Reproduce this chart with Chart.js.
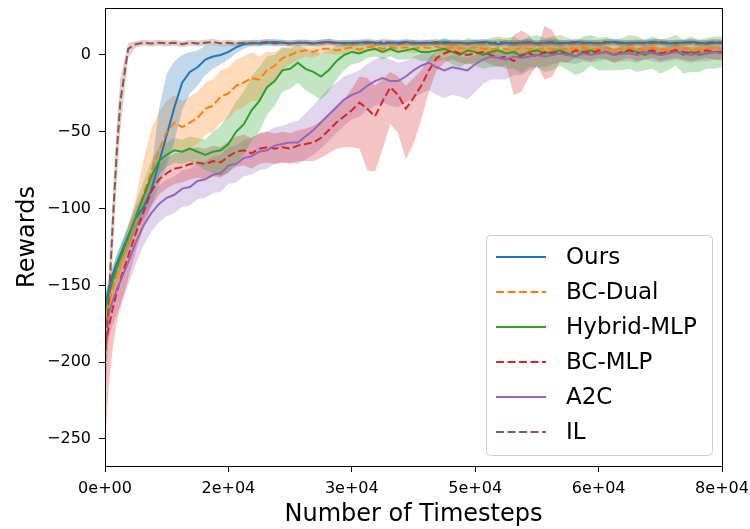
<!DOCTYPE html>
<html>
<head>
<meta charset="utf-8">
<script src="https://cdn.jsdelivr.net/npm/chart.js"></script>
<style>
  html, body { margin: 0; padding: 0; background: #fff; }
  #wrap { width: 750px; height: 529px; }
</style>
</head>
<body>
<div id="wrap"><canvas id="c" width="750" height="529"></canvas></div>
<script>
// timesteps (x) shared by every series
const steps = [0, 500, 1000, 1500, 2000, 3000, 4000, 5000, 6000, 7000,
  8000, 9000, 10000, 11000, 12000, 13000, 14000, 15000, 16000, 17000,
  18000, 19000, 20000, 21000, 22000, 23000, 24000, 25000, 26000, 27000,
  28000, 29000, 30000, 31000, 32000, 33000, 34000, 35000, 36000, 37000,
  38000, 39000, 40000, 41000, 42000, 43000, 44000, 45000, 46000, 47000,
  48000, 49000, 50000, 51000, 52000, 53000, 54000, 55000, 56000, 57000,
  58000, 59000, 60000, 61000, 62000, 63000, 64000, 65000, 66000, 67000,
  68000, 69000, 70000, 71000, 72000, 73000, 74000, 75000, 76000, 77000,
  78000, 79000, 80000];

const xTicks = [0, 16000, 32000, 48000, 64000, 80000];
const yTicks = [-250, -200, -150, -100, -50, 0];

// Ours
const oursMean = [-162, -152, -143, -136, -130, -118, -106, -99, -88, -70,
  -52, -34, -18, -11, -8, -3, -1, 0, 2, 5,
  7, 8, 7.5, 8, 8.5, 8, 7.5, 8, 8, 7.5,
  8, 8.5, 8, 7.5, 8, 8, 8.5, 8, 7.5, 8,
  8, 8.5, 7.5, 8, 8, 7.5, 8.5, 8, 8, 7.5,
  8, 8.5, 8, 7, 8, 7.5, 8, 8.5, 7.5, 8,
  8, 7.5, 8, 8.5, 8, 8, 7.5, 8, 8.5, 8,
  7.5, 8, 8, 8.5, 8, 7.5, 8, 8, 8.5, 8,
  7.5, 8, 8];
const oursHi = [6, 6, 6, 6, 6, 6, 7, 8, 12, 35,
  40, 30, 18, 13, 11, 9, 8, 6, 5, 3,
  2, 2, 2, 2, 2, 2, 2, 2, 2, 2,
  2, 2, 2, 2, 2, 2, 2, 2, 2, 2,
  2, 2, 2, 2, 2, 2, 2, 2, 2, 2,
  2, 2, 2, 2, 2, 2, 2, 2, 2, 2,
  2, 2, 2, 2, 2, 2, 2, 2, 2, 2,
  2, 2, 2, 2, 2, 2, 2, 2, 2, 2,
  2, 2, 2];
const oursLo = [6, 6, 6, 6, 6, 6, 7, 8, 10, 15,
  20, 22, 18, 14, 12, 10, 8, 6, 5, 4,
  3, 2, 2, 2, 2, 2, 2, 2, 2, 2,
  2, 2, 2, 2, 2, 2, 2, 2, 2, 2,
  2, 2, 2, 2, 2, 2, 2, 2, 2, 2,
  2, 2, 2, 2, 2, 2, 2, 2, 2, 2,
  2, 2, 2, 2, 2, 2, 2, 2, 2, 2,
  2, 2, 2, 2, 2, 2, 2, 2, 2, 2,
  2, 2, 2];

// BC-Dual
const dualMean = [-175, -163, -152, -143, -135, -120, -105, -90, -76, -62,
  -50, -44, -47, -44, -41, -35, -33, -27, -25, -20,
  -18, -15, -16, -10, -7, -2, 0, 2, 3, 2,
  4, 4, 3, 4, 5, 3.5, 5, 5.5, 4, 5,
  4.5, 5, 4, 5, 4.5, 5.5, 4, 5, 4.5, 4,
  5, 4, 3.5, 4.5, 4, 3, 5, 4, 3.5, 4.5,
  4, 3, 4.5, 4, 5, 3.5, 4, 4.5, 3, 4,
  4.5, 4, 3.5, 4.5, 4, 3, 4, 4.5, 4, 3.5,
  4, 4.5, 4];
const dualHi = [8, 8, 8, 8, 8, 9, 12, 22, 28, 25,
  20, 18, 17, 17, 17, 17, 17, 17, 17, 17,
  17, 17, 15, 12, 9, 7, 5, 4, 3, 3,
  3, 3, 3, 3, 3, 3, 3, 3, 3, 3,
  3, 3, 3, 3, 3, 3, 3, 3, 3, 3,
  3, 3, 3, 3, 3, 3, 3, 3, 3, 3,
  3, 3, 3, 3, 3, 3, 3, 3, 3, 3,
  3, 3, 3, 3, 3, 3, 3, 3, 3, 3,
  3, 3, 3];
const dualLo = [8, 8, 8, 8, 8, 8, 10, 14, 16, 17,
  17, 17, 17, 17, 17, 17, 17, 17, 16, 16,
  16, 15, 14, 12, 10, 8, 6, 5, 4, 4,
  3, 3, 3, 3, 3, 3, 3, 3, 3, 3,
  3, 3, 3, 3, 3, 3, 3, 3, 3, 3,
  3, 3, 3, 3, 3, 3, 3, 3, 3, 3,
  3, 3, 3, 3, 3, 3, 3, 3, 3, 3,
  3, 3, 3, 3, 3, 3, 3, 3, 3, 3,
  3, 3, 3];

// Hybrid-MLP
const hybMean = [-166, -156, -147, -139, -132, -119, -105, -92, -79, -69,
  -65, -62, -63, -61, -63, -65, -63, -62, -58, -50,
  -45, -36, -30, -21, -17, -10, -9, -5, -9, -11,
  -14, -10, -4, 0, 2, 1, 3, 4, 2, 4,
  2, 3, 4, 2, 2, 3, 4, 2, 0, 3,
  2, 0, 2, 3, 1, 2, -1, 2, 3, 1,
  2, 3, 1, -1, 2, 3, 1, 2, 0, 1,
  3, 2, 0, 2, 0, 1, 3, 0, 2, 0,
  1, 2, 2];
const hybHi = [8, 8, 8, 8, 8, 8, 9, 10, 10, 9,
  8, 8, 8, 8, 9, 10, 13, 16, 19, 20,
  21, 22, 22, 20, 17, 15, 13, 12, 13, 14,
  15, 13, 10, 7, 6, 6, 5, 5, 5, 5,
  5, 5, 6, 6, 6, 6, 7, 7, 8, 8,
  8, 9, 9, 9, 10, 10, 10, 10, 10, 10,
  10, 10, 10, 10, 10, 10, 10, 10, 10, 10,
  10, 10, 10, 10, 10, 10, 10, 10, 10, 10,
  10, 10, 10];
const hybLo = [8, 8, 8, 8, 8, 8, 9, 10, 10, 9,
  8, 8, 8, 8, 9, 10, 14, 17, 19, 20,
  20, 20, 20, 18, 16, 14, 13, 13, 14, 15,
  15, 14, 12, 10, 8, 6, 5, 5, 5, 5,
  5, 6, 6, 6, 6, 7, 7, 8, 8, 8,
  9, 9, 10, 10, 10, 11, 11, 10, 11, 12,
  12, 10, 11, 12, 13, 10, 11, 12, 10, 11,
  12, 13, 10, 11, 12, 11, 10, 12, 13, 11,
  10, 11, 10];

// BC-MLP
const mlpMean = [-190, -177, -165, -155, -146, -131, -116, -102, -89, -81,
  -77, -74, -73, -71, -70, -71, -69, -70, -66, -63,
  -62, -64, -61, -60, -61, -60, -61, -59, -58, -57,
  -54, -49, -44, -40, -36, -31, -35, -40, -30, -21,
  -26, -35, -28, -20, -10, -2, 1, 3, 1, 0,
  1, 2, 0, -2, -1, -4, 0, 1, -1, 2,
  1, 2, 0, 3, 2, 1, 3, 2, 0, 2,
  3, 1, 2, 3, 1, 2, 3, 2, 1, 2,
  3, 2, 2];
const mlpHi = [10, 10, 10, 10, 10, 10, 10, 10, 10, 10,
  10, 10, 10, 10, 10, 10, 10, 10, 10, 10,
  10, 10, 10, 10, 10, 10, 10, 10, 10, 11,
  11, 11, 11, 11, 14, 17, 20, 20, 14, 10,
  12, 15, 13, 10, 8, 6, 5, 5, 5, 5,
  5, 5, 5, 5, 5, 17, 16, 12, 5, 17,
  15, 5, 5, 5, 5, 5, 4, 4, 4, 4,
  4, 4, 4, 4, 4, 4, 4, 4, 4, 4,
  4, 4, 4];
const mlpLo = [65, 38, 26, 20, 18, 15, 12, 10, 10, 10,
  10, 10, 10, 10, 10, 10, 10, 10, 10, 10,
  10, 10, 10, 10, 10, 10, 10, 10, 11, 12,
  13, 15, 17, 20, 24, 30, 40, 36, 31, 24,
  25, 33, 30, 22, 14, 8, 6, 6, 6, 6,
  6, 6, 6, 6, 6, 22, 24, 15, 6, 18,
  15, 6, 5, 5, 5, 5, 5, 5, 5, 5,
  5, 5, 5, 5, 5, 5, 5, 5, 5, 5,
  5, 5, 5];

// A2C
const a2cMean = [-178, -168, -160, -153, -147, -135, -122, -111, -103, -97,
  -93, -91, -87, -86, -82, -81, -78, -77, -72, -71,
  -67, -66, -63, -62, -59, -58, -57, -57, -53, -49,
  -44, -39, -34, -29, -26, -24, -20, -17, -15, -17,
  -17, -14, -10, -7, -5, -8, -10, -8, -9, -10,
  -6, -3, -1, -2, -3, -1, -2, -1, 0, -1,
  0, 1, 0, -1, 1, 0, 1, 2, 0, 1,
  1, 0, 2, 1, 0, 1, 2, 1, 0, 1,
  1, 2, 1];
const a2cHi = [14, 14, 14, 14, 14, 13, 12, 12, 12, 12,
  12, 12, 12, 12, 12, 12, 12, 12, 12, 12,
  12, 12, 12, 12, 12, 12, 13, 14, 15, 16,
  17, 17, 16, 15, 14, 14, 14, 14, 14, 14,
  12, 10, 9, 8, 7, 7, 8, 8, 8, 8,
  6, 5, 4, 4, 4, 4, 4, 4, 4, 4,
  4, 4, 4, 4, 4, 4, 4, 4, 4, 4,
  4, 4, 4, 4, 4, 4, 4, 4, 4, 4,
  4, 4, 4];
const a2cLo = [16, 16, 16, 16, 16, 15, 14, 13, 12, 12,
  12, 12, 12, 12, 12, 12, 12, 12, 12, 12,
  12, 12, 12, 12, 12, 12, 13, 14, 15, 16,
  17, 17, 17, 17, 16, 16, 16, 16, 16, 16,
  17, 17, 18, 18, 18, 18, 18, 18, 18, 19,
  18, 16, 15, 14, 13, 12, 11, 9, 8, 7,
  6, 6, 5, 5, 5, 5, 5, 5, 5, 5,
  5, 5, 5, 5, 5, 5, 5, 5, 5, 5,
  5, 5, 5];

// IL
const ilMean = [-200, -160, -110, -65, -30, 4, 7, 8, 7.5, 8,
  7.5, 8, 7, 8, 7.5, 8, 8.5, 7.5, 8, 7.5,
  8, 7.5, 8, 8.5, 7.5, 8, 7.5, 8, 8, 7.5,
  8, 8.5, 7.5, 8, 7.5, 8, 8, 7.5, 8.5, 8,
  7.5, 8, 8, 7.5, 8, 8.5, 7.5, 8, 8, 7.5,
  8, 8, 7.5, 8.5, 8, 7.5, 8, 8, 7.5, 8,
  8.5, 8, 7.5, 8, 8, 7.5, 8, 8.5, 8, 7.5,
  8, 8, 7.5, 8, 8.5, 8, 7.5, 8, 8, 7.5,
  8, 8.5, 8];
const ilHi = [18, 18, 18, 18, 15, 4, 2, 2, 2, 2,
  2, 2, 2, 2, 2, 2, 2, 2, 2, 2,
  2, 2, 2, 2, 2, 2, 2, 2, 2, 2,
  2, 2, 2, 2, 2, 2, 2, 2, 2, 2,
  2, 2, 2, 2, 2, 2, 2, 2, 2, 2,
  2, 2, 2, 2, 2, 2, 2, 2, 2, 2,
  2, 2, 2, 2, 2, 2, 2, 2, 2, 2,
  2, 2, 2, 2, 2, 2, 2, 2, 2, 2,
  2, 2, 2];
const ilLo = [25, 22, 20, 20, 18, 6, 2, 2, 2, 2,
  2, 2, 2, 2, 2, 2, 2, 2, 2, 2,
  2, 2, 2, 2, 2, 2, 2, 2, 2, 2,
  2, 2, 2, 2, 2, 2, 2, 2, 2, 2,
  2, 2, 2, 2, 2, 2, 2, 2, 2, 2,
  2, 2, 2, 2, 2, 2, 2, 2, 2, 2,
  2, 2, 2, 2, 2, 2, 2, 2, 2, 2,
  2, 2, 2, 2, 2, 2, 2, 2, 2, 2,
  2, 2, 2];

const series = [
  { label: 'Ours',       color: [31, 119, 180], dash: [],     mean: oursMean, hi: oursHi, lo: oursLo },
  { label: 'BC-Dual',    color: [255, 127, 14], dash: [8, 3.5], mean: dualMean, hi: dualHi, lo: dualLo },
  { label: 'Hybrid-MLP', color: [44, 160, 44],  dash: [],     mean: hybMean,  hi: hybHi,  lo: hybLo },
  { label: 'BC-MLP',     color: [214, 39, 40],  dash: [8, 3.5], mean: mlpMean,  hi: mlpHi,  lo: mlpLo },
  { label: 'A2C',        color: [148, 103, 189], dash: [],    mean: a2cMean,  hi: a2cHi,  lo: a2cLo },
  { label: 'IL',         color: [140, 86, 75],  dash: [8, 3.5], mean: ilMean,   hi: ilHi,   lo: ilLo },
];

const rgba = (c, a) => `rgba(${c[0]},${c[1]},${c[2]},${a})`;
const pts = ys => ys.map((y, i) => ({ x: steps[i], y }));

const datasets = [];
// shaded bands first (drawn below all lines)
series.forEach(s => {
  datasets.push({
    data: pts(s.mean.map((m, i) => m + s.hi[i])),
    borderWidth: 0, pointRadius: 0, fill: false, order: 10,
  });
  datasets.push({
    data: pts(s.mean.map((m, i) => m - s.lo[i])),
    borderWidth: 0, pointRadius: 0, order: 10,
    fill: '-1', backgroundColor: rgba(s.color, 0.28),
  });
});
// mean lines, later series on top
series.forEach((s, k) => {
  datasets.push({
    label: s.label,
    data: pts(s.mean),
    borderColor: rgba(s.color, 1),
    borderWidth: 2,
    borderDash: s.dash,
    pointRadius: 0,
    fill: false,
    tension: 0,
    order: series.length - k,
  });
});

const frame = {
  id: 'frame',
  afterDraw(chart) {
    const { ctx, chartArea: a } = chart;
    ctx.save();
    ctx.strokeStyle = '#000';
    ctx.lineWidth = 1;
    ctx.strokeRect(a.left + 0.5, a.top + 0.5, a.right - a.left, a.bottom - a.top);
    ctx.restore();
  }
};

const legendBox = {
  id: 'legendBox',
  afterDraw(chart) {
    const ctx = chart.ctx;
    const x0 = 486, y0 = 235, w = 226, h = 220, r = 4;
    ctx.save();
    ctx.beginPath();
    ctx.roundRect(x0 + 0.5, y0 + 0.5, w, h, r);
    ctx.fillStyle = 'rgba(255,255,255,0.85)';
    ctx.fill();
    ctx.strokeStyle = '#d0d0d0';
    ctx.lineWidth = 1;
    ctx.stroke();
    ctx.font = '23px "DejaVu Sans", sans-serif';
    ctx.textBaseline = 'middle';
    ctx.fillStyle = '#000';
    series.forEach((s, i) => {
      const y = y0 + 22 + i * 35;
      ctx.beginPath();
      ctx.setLineDash(s.dash);
      ctx.strokeStyle = rgba(s.color, 1);
      ctx.lineWidth = 2;
      ctx.moveTo(496, y);
      ctx.lineTo(546, y);
      ctx.stroke();
      ctx.setLineDash([]);
      ctx.fillText(s.label, 566, y + 1);
    });
    ctx.restore();
  }
};

const tickFont = { family: '"DejaVu Sans", sans-serif', size: 16 };
const titleFont = { family: '"DejaVu Sans", sans-serif', size: 24 };

new Chart(document.getElementById('c'), {
  type: 'line',
  data: { datasets },
  plugins: [frame, legendBox],
  options: {
    responsive: false,
    animation: false,
    layout: { padding: { top: 8, right: 28, left: 0, bottom: 0 } },
    plugins: { legend: { display: false }, tooltip: { enabled: false } },
    scales: {
      x: {
        type: 'linear',
        min: 0, max: 80000,
        afterFit: s => { s.height = 63; s.paddingLeft = 0; s.paddingRight = 0; },
        afterBuildTicks: s => { s.ticks = xTicks.map(v => ({ value: v })); },
        ticks: {
          color: '#000', font: tickFont, padding: 7, maxRotation: 0, autoSkip: false,
          callback: v => v.toExponential(0).replace(/e([+-])(\d)$/, 'e$10$2'),
        },
        grid: { display: true, drawOnChartArea: false, drawTicks: true, tickLength: 6, color: '#000' },
        border: { display: true, color: '#000' },
        title: { display: true, text: 'Number of Timesteps', color: '#000', font: titleFont, padding: { top: 0, bottom: 0 } },
      },
      y: {
        min: -267.6, max: 30.6,
        afterFit: s => { s.width = 105; s.paddingTop = 0; s.paddingBottom = 0; },
        afterBuildTicks: s => { s.ticks = yTicks.map(v => ({ value: v })); },
        ticks: {
          color: '#000', font: tickFont, padding: 8,
          callback: v => String(v).replace('-', '\u2212'),
        },
        grid: { display: true, drawOnChartArea: false, drawTicks: true, tickLength: 6, color: '#000' },
        border: { display: true, color: '#000' },
        title: { display: true, text: 'Rewards', color: '#000', font: titleFont, padding: { top: 13, bottom: 0 } },
      },
    },
  },
});
</script>
</body>
</html>
